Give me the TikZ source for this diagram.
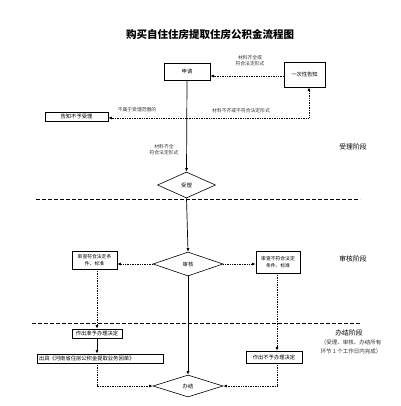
\documentclass[tikz,border=0pt]{standalone}
\usepackage{fontspec}
\setmainfont{Noto Sans CJK SC}
\usetikzlibrary{shapes.geometric,arrows.meta}
\begin{document}
\begin{tikzpicture}[x=1pt,y=-1pt,
  every node/.style={font=\fontsize{5.3}{6.5}\selectfont, inner sep=1pt},
  boxa/.style={draw, line width=0.7pt, minimum height=9pt, align=center},
  dia/.style={draw, diamond, aspect=2.3, inner sep=0pt, line width=0.6pt},
  solidarr/.style={line width=0.7pt, -{Latex[length=3.5pt,width=3pt]}},
  dotarr/.style={densely dotted, line width=0.7pt, -{Latex[length=3.5pt,width=3pt]}},
  sep/.style={line width=0.9pt, dash pattern=on 3.5pt off 2.5pt},
  lbl/.style={align=center, font=\fontsize{4.8}{6}\selectfont, text=black!80},
  stage/.style={font=\fontsize{6.8}{8}\selectfont}
]
\useasboundingbox (0,0) rectangle (400,406);
\fill[white] (0,0) rectangle (400,406);

\node[font=\fontsize{10.5}{12}\selectfont\bfseries] (title) at (210,35) {购买自住住房提取住房公积金流程图};

% nodes
\node[boxa, minimum width=46pt, minimum height=17pt] (apply) at (187,71.5) {申请};
\node[boxa, minimum width=41pt, minimum height=25pt] (notice) at (304.5,74.5) {一次性告知};
\node[boxa, minimum width=63pt] (reject) at (76.5,116.5) {告知不予受理};
\node[dia, minimum width=58pt, minimum height=26pt] (accept) at (186.5,185) {受理};
\node[dia, minimum width=70pt, minimum height=24pt] (review) at (188,264) {审核};
\node[boxa, minimum width=45pt, minimum height=18pt, font=\fontsize{4.8}{6.5}\selectfont] (okcond) at (94.5,260) {审查符合法定条\\件、标准};
\node[boxa, minimum width=44pt, minimum height=22pt, font=\fontsize{4.8}{6.5}\selectfont] (nocond) at (278,262) {审查不符合法定\\条件、标准};
\node[boxa, minimum width=50pt] (grant) at (97,333.5) {作出准予办理决定};
\node[boxa, minimum width=126pt, text width=122pt, align=left] (receipt) at (100,358.5) {出具《河南省住房公积金提取业务回单》};
\node[boxa, minimum width=56pt, minimum height=12pt] (deny) at (274,357) {作出不予办理决定};
\node[dia, minimum width=70pt, minimum height=22pt] (done) at (188,386) {办结};

% junction coordinates
\coordinate (j1) at (187,118);
\coordinate (c1) at (309,118);
\coordinate (c2) at (97,386);
\coordinate (c3) at (277,386);

% connectors
\draw[solidarr] (apply.south) -- (accept.north);
\draw[solidarr] (accept.south) -- (review.north);
\draw[solidarr] (review.south) -- (done.north);
\draw[dotarr] (notice.west |- 0,76) -- (apply.east |- 0,76);
\draw[dotarr] (j1) -- (reject.east |- j1);
\draw[dotarr] (j1) -- (c1) -- (c1 |- notice.south);
\draw[dotarr] (review.west) -- (okcond.east |- review.west);
\draw[dotarr] (review.east) -- (nocond.west |- review.east);
\draw[dotarr] (okcond.south -| 97,0) -- (grant.north);
\draw[solidarr] (grant.south) -- (grant.south |- receipt.north);
\draw[dotarr] (receipt.south -| c2) -- (c2) -- (done.west);
\draw[dotarr] (nocond.south -| c3) -- (c3 |- deny.north);
\draw[dotarr] (deny.south -| c3) -- (c3) -- (done.east);

% labels
\node[lbl] (l1) at (250,61) {材料齐全或\\符合法定形式};
\node[lbl] (l2) at (241,111) {材料不齐或不符合法定形式};
\node[lbl] (l3) at (137,110) {不属于受理范围的};
\node[lbl] (l4) at (164,149.5) {材料齐全\\符合法定形式};

% separators
\coordinate (s1a) at (36,199);
\coordinate (s1b) at (360,199);
\coordinate (s2a) at (32,323);
\coordinate (s2b) at (360,323);
\draw[sep] (s1a) -- (s1b);
\draw[sep] (s2a) -- (s2b);

% stage labels
\node[stage] (st1) at (353,147) {受理阶段};
\node[stage] (st2) at (353,259) {审核阶段};
\node[stage] (st3) at (349,333) {办结阶段};
\node[lbl, font=\fontsize{5.5}{9.5}\selectfont] (st3b) at (351,347) {（受理、审核、办结所有\\环节 1 个工作日内完成）};
\end{tikzpicture}
\end{document}
